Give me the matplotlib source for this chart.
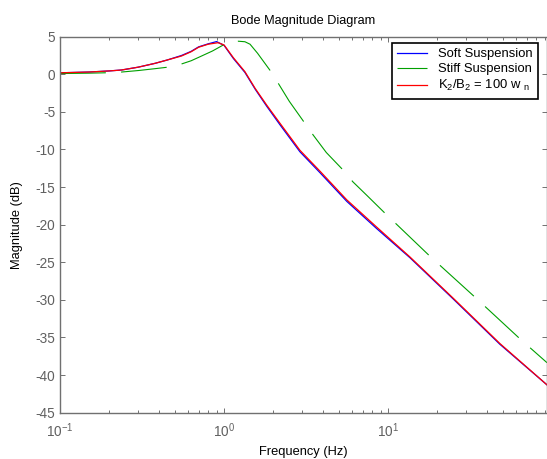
import matplotlib
matplotlib.use("Agg")
import matplotlib.pyplot as plt

plt.rcParams["font.family"] = ["Liberation Sans", "DejaVu Sans"]
plt.rcParams["mathtext.fontset"] = "custom"
plt.rcParams["mathtext.rm"] = "Liberation Sans"
plt.rcParams["mathtext.default"] = "regular"
plt.rcParams["axes.unicode_minus"] = False

# values (frequency in Hz, magnitude in dB)
soft_freq = [0.1, 0.15, 0.2, 0.237, 0.3, 0.38, 0.45, 0.55, 0.63, 0.70, 0.8, 0.9,
             1.0, 1.14, 1.34, 1.55, 1.82, 2.19, 2.9, 3.85, 5.6, 8.5, 13.6, 25, 48, 93]
soft_db = [0.2, 0.3, 0.45, 0.57, 0.95, 1.46, 1.9, 2.5, 3.05, 3.65, 4.05, 4.35,
           3.85, 2.1, 0.25, -2.0, -4.25, -6.7, -10.3, -13.1, -16.9, -20.5, -24.4, -29.9, -35.9, -41.3]

stiff_freq = [0.1, 0.15, 0.188, 0.237, 0.3, 0.38, 0.447, 0.55, 0.63, 0.714, 0.85, 0.99,
              1.1, 1.22, 1.34, 1.44, 1.6, 1.9, 2.14, 2.5, 3.06, 3.5, 4.2, 5.3, 6.1, 7.5,
              9.6, 18, 33.9, 63.8, 93]
stiff_db = [0.1, 0.15, 0.2, 0.3, 0.5, 0.75, 0.93, 1.37, 1.8, 2.34, 3.1, 3.9,
            4.3, 4.4, 4.33, 4.0, 2.8, 0.57, -1.2, -3.6, -6.3, -8.1, -10.4, -12.7, -14.3, -16.2,
            -18.5, -24.2, -29.65, -35.2, -38.35]

ratio_freq = [0.1, 0.15, 0.2, 0.237, 0.3, 0.38, 0.45, 0.55, 0.63, 0.70, 0.8, 0.92,
              1.0, 1.14, 1.34, 1.55, 1.82, 2.19, 2.9, 3.85, 5.6, 8.5, 13.6, 25, 48, 93]
ratio_db = [0.2, 0.3, 0.45, 0.57, 0.95, 1.46, 1.9, 2.43, 3.0, 3.6, 4.0, 4.2,
            3.9, 2.2, 0.35, -1.9, -4.1, -6.5, -10.1, -12.9, -16.7, -20.3, -24.3, -29.8, -35.8, -41.3]

labels = ["Soft Suspension", "Stiff Suspension", r"K$_2$/B$_2$ = 100 w $_n$"]
y_ticks = list(range(5, -50, -5))

fig = plt.figure(figsize=(5.47, 4.59), dpi=100)
ax = fig.add_axes([60 / 547, 46.3 / 459, 487 / 547, 376 / 459])

ax.plot(soft_freq, soft_db, color="#0000ff", lw=0.9, label=labels[0])
ax.plot(stiff_freq, stiff_db, color="#00a000", lw=0.8,
        linestyle=(0, (33 / 0.8, 11 / 0.8)), label=labels[1])
ax.plot(ratio_freq, ratio_db, color="#ff0000", lw=0.9, label=labels[2])

ax.set_xscale("log")
ax.set_xlim(0.1, 93)
ax.set_ylim(-45, 5)
ax.set_yticks(y_ticks)

ax.set_title("Bode Magnitude Diagram", fontsize=9.2, pad=9)
ax.set_xlabel("Frequency (Hz)", fontsize=9.3, va="center")
ax.set_ylabel("Magnitude (dB)", fontsize=9.3, va="center")
ax.xaxis.set_label_coords(0.5, -0.104)
ax.yaxis.set_label_coords(-0.088, 0.5)

for side in ax.spines.values():
    side.set_color("#707070")
    side.set_linewidth(1.0)
ax.tick_params(which="both", direction="in", top=True, right=True,
               colors="#707070", labelcolor="#606060", labelsize=9.8)
ax.tick_params(axis="x", which="major", pad=6)
ax.tick_params(which="major", length=3.5, width=0.7)
ax.tick_params(which="minor", length=2.2, width=0.7)

leg = ax.legend(loc="upper right", bbox_to_anchor=(0.981, 0.983), borderaxespad=0,
                fontsize=9.4, fancybox=False, framealpha=1, edgecolor="black",
                handlelength=2.3, handletextpad=0.8, labelspacing=0.22, borderpad=0.4)
leg.get_frame().set_linewidth(1.2)

fig.savefig("out.png", dpi=100)
